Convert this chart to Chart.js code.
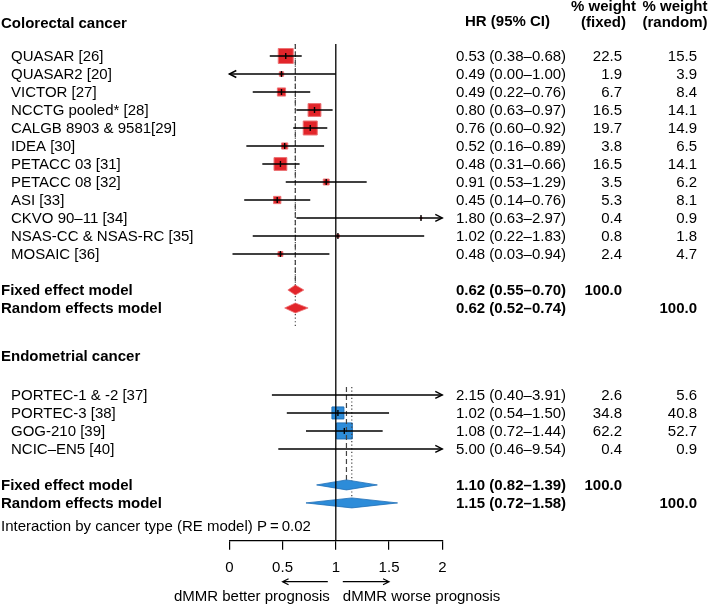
<!DOCTYPE html>
<html>
<head>
<meta charset="utf-8">
<script src="https://cdn.jsdelivr.net/npm/chart.js@4/dist/chart.umd.min.js"></script>
<style>
  body { margin: 0; background: #fff; }
  canvas { display: block; }
</style>
</head>
<body>
<canvas id="forest" width="709" height="604"></canvas>
<script>
// colorectal cancer studies
const crcStudies = ['QUASAR [26]', 'QUASAR2 [20]', 'VICTOR [27]', 'NCCTG pooled* [28]', 'CALGB 8903 & 9581[29]',
  'IDEA [30]', 'PETACC 03 [31]', 'PETACC 08 [32]', 'ASI [33]', 'CKVO 90\u201311 [34]', 'NSAS-CC & NSAS-RC [35]', 'MOSAIC [36]'];
const crcHR = [0.53, 0.49, 0.49, 0.80, 0.76, 0.52, 0.48, 0.91, 0.45, 1.80, 1.02, 0.48];
const crcLower = [0.38, 0.00, 0.22, 0.63, 0.60, 0.16, 0.31, 0.53, 0.14, 0.63, 0.22, 0.03];
const crcUpper = [0.68, 1.00, 0.76, 0.97, 0.92, 0.89, 0.66, 1.29, 0.76, 2.97, 1.83, 0.94];
const crcWeightFixed = [22.5, 1.9, 6.7, 16.5, 19.7, 3.8, 16.5, 3.5, 5.3, 0.4, 0.8, 2.4];
const crcWeightRandom = [15.5, 3.9, 8.4, 14.1, 14.9, 6.5, 14.1, 6.2, 8.1, 0.9, 1.8, 4.7];
const crcFixedModel = [0.62, 0.55, 0.70];
const crcRandomModel = [0.62, 0.52, 0.74];

// endometrial cancer studies
const endoStudies = ['PORTEC-1 & -2 [37]', 'PORTEC-3 [38]', 'GOG-210 [39]', 'NCIC\u2013EN5 [40]'];
const endoHR = [2.15, 1.02, 1.08, 5.00];
const endoLower = [0.40, 0.54, 0.72, 0.46];
const endoUpper = [3.91, 1.50, 1.44, 9.54];
const endoWeightFixed = [2.6, 34.8, 62.2, 0.4];
const endoWeightRandom = [5.6, 40.8, 52.7, 0.9];
const endoFixedModel = [1.10, 0.82, 1.39];
const endoRandomModel = [1.15, 0.72, 1.58];

const xTicks = [0, 0.5, 1, 1.5, 2];
const interactionP = '0.02';

const FONT = "'Liberation Sans', Arial, Helvetica, sans-serif";
const XMIN = 0, XMAX = 2;

const groups = [
  { title: 'Colorectal cancer', titleRow: -1.85, firstRow: 0, names: crcStudies, hr: crcHR, lo: crcLower, hi: crcUpper,
    wf: crcWeightFixed, wr: crcWeightRandom, fixed: crcFixedModel, random: crcRandomModel,
    fill: '#e2252a', edge: '#ec7476', sizeK: 3.16, lineTop: -0.67, randomEnd: 15 },
  { title: 'Endometrial cancer', titleRow: 16.67, firstRow: 18.83, names: endoStudies, hr: endoHR, lo: endoLower, hi: endoUpper,
    wf: endoWeightFixed, wr: endoWeightRandom, fixed: endoFixedModel, random: endoRandomModel,
    fill: '#2d8cd9', edge: '#1f6fb6', sizeK: 2.03, lineTop: 18.39, randomEnd: 24.83 }
];
groups.forEach(g => {
  g.rows = g.names.map((_, i) => g.firstRow + i);
  g.fixedRow = g.firstRow + g.names.length + 1;
  g.randomRow = g.fixedRow + 1;
});

// squares, sized by fixed-effect weight
const squareData = [], squareRadius = [], squareFill = [], squareEdge = [];
groups.forEach(g => {
  g.hr.forEach((v, i) => {
    if (v < XMIN || v > XMAX) return;
    squareData.push({ x: v, y: g.rows[i] });
    squareRadius.push(g.sizeK * Math.sqrt(g.wf[i]) / Math.SQRT2);
    squareFill.push(g.fill);
    squareEdge.push(g.edge);
  });
});

function ci(v) {
  return v[0].toFixed(2) + ' (' + v[1].toFixed(2) + '\u2013' + v[2].toFixed(2) + ')';
}

const forestPlugin = {
  id: 'forest',
  afterDatasetsDraw(chart) {
    const { ctx, chartArea } = chart;
    const xs = chart.scales.x, ys = chart.scales.y;
    const px = v => xs.getPixelForValue(v);
    const py = r => ys.getPixelForValue(r);
    const vline = (x, y1, y2) => { ctx.beginPath(); ctx.moveTo(x, y1); ctx.lineTo(x, y2); ctx.stroke(); };
    const arrow = (x, y, dir) => {
      ctx.beginPath();
      ctx.moveTo(x - dir * 7, y - 3.5); ctx.lineTo(x, y); ctx.lineTo(x - dir * 7, y + 3.5);
      ctx.stroke();
    };
    const diamond = (m, row, fill, edge) => {
      const y = py(row), h = 5;
      ctx.beginPath();
      ctx.moveTo(px(m[1]), y); ctx.lineTo(px(m[0]), y - h);
      ctx.lineTo(px(m[2]), y); ctx.lineTo(px(m[0]), y + h);
      ctx.closePath();
      ctx.fillStyle = fill; ctx.fill();
      ctx.strokeStyle = edge; ctx.lineWidth = 0.8; ctx.stroke();
    };

    ctx.save();
    // pooled estimate lines
    groups.forEach(g => {
      ctx.strokeStyle = '#444';
      ctx.lineWidth = 1.2;
      ctx.setLineDash([5, 3]);
      vline(px(g.fixed[0]), py(g.lineTop), py(g.fixedRow));
      ctx.setLineDash([1.2, 2.4]);
      vline(px(g.random[0]), py(g.lineTop), py(g.randomEnd));
    });
    ctx.setLineDash([]);

    groups.forEach(g => {
      diamond(g.fixed, g.fixedRow, g.fill, g.edge);
      diamond(g.random, g.randomRow, g.fill, g.edge);
    });

    // line of no effect
    ctx.strokeStyle = '#000';
    ctx.lineWidth = 1.3;
    vline(px(1), py(-0.67), chartArea.bottom);

    // confidence intervals
    ctx.lineWidth = 1.4;
    groups.forEach(g => {
      g.hr.forEach((v, i) => {
        const y = py(g.rows[i]);
        const a = Math.max(g.lo[i], XMIN), b = Math.min(g.hi[i], XMAX);
        ctx.beginPath(); ctx.moveTo(px(a), y); ctx.lineTo(px(b), y); ctx.stroke();
        if (g.lo[i] <= XMIN) arrow(px(XMIN), y, -1);
        if (g.hi[i] > XMAX) arrow(px(XMAX), y, 1);
        if (v >= XMIN && v <= XMAX) vline(px(v), y - 3, y + 3);
      });
    });
    ctx.restore();
  },
  afterDraw(chart) {
    const { ctx, chartArea } = chart;
    const xs = chart.scales.x, ys = chart.scales.y;
    const py = r => ys.getPixelForValue(r) + 1;
    const colHR = 456, colFixed = 622, colRandom = 697;
    const text = (s, x, y, align, bold) => {
      ctx.font = (bold ? 'bold ' : '') + '15px ' + FONT;
      ctx.textAlign = align;
      ctx.fillText(s, x, y);
    };

    ctx.save();
    ctx.fillStyle = '#000';
    ctx.textBaseline = 'middle';

    // column headers
    text('HR (95% CI)', 507.5, 22, 'center', true);
    text('% weight', 603.5, 7, 'center', true);
    text('(fixed)', 603.5, 23, 'center', true);
    text('% weight', 675, 7, 'center', true);
    text('(random)', 675, 23, 'center', true);

    groups.forEach(g => {
      text(g.title, 1, py(g.titleRow), 'left', true);
      g.names.forEach((n, i) => {
        const y = py(g.rows[i]);
        text(n, 11, y, 'left', false);
        text(ci([g.hr[i], g.lo[i], g.hi[i]]), colHR, y, 'left', false);
        text(g.wf[i].toFixed(1), colFixed, y, 'right', false);
        text(g.wr[i].toFixed(1), colRandom, y, 'right', false);
      });
      const yf = py(g.fixedRow), yr = py(g.randomRow);
      text('Fixed effect model', 1, yf, 'left', true);
      text(ci(g.fixed), colHR, yf, 'left', true);
      text('100.0', colFixed, yf, 'right', true);
      text('Random effects model', 1, yr, 'left', true);
      text(ci(g.random), colHR, yr, 'left', true);
      text('100.0', colRandom, yr, 'right', true);
    });

    text('Interaction by cancer type (RE model) P\u2009=\u2009' + interactionP, 1, py(26.1), 'left', false);

    // direction arrows under the axis
    const ya = chartArea.bottom + 41;
    const x1 = xs.getPixelForValue(1);
    const xl = xs.getPixelForValue(0.5), xr = xs.getPixelForValue(1.5);
    ctx.strokeStyle = '#000';
    ctx.lineWidth = 1.2;
    ctx.beginPath();
    ctx.moveTo(x1 - 8, ya); ctx.lineTo(xl, ya);
    ctx.moveTo(xl + 6, ya - 3); ctx.lineTo(xl, ya); ctx.lineTo(xl + 6, ya + 3);
    ctx.moveTo(x1 + 7, ya); ctx.lineTo(xr, ya);
    ctx.moveTo(xr - 6, ya - 3); ctx.lineTo(xr, ya); ctx.lineTo(xr - 6, ya + 3);
    ctx.stroke();
    text('dMMR better prognosis', x1 - 6, chartArea.bottom + 56, 'right', false);
    text('dMMR worse prognosis', x1 + 7, chartArea.bottom + 56, 'left', false);
    ctx.restore();
  }
};

Chart.defaults.font.family = FONT;
Chart.defaults.color = '#000';

new Chart(document.getElementById('forest'), {
  type: 'scatter',
  data: {
    datasets: [{
      data: squareData,
      pointStyle: 'rect',
      pointRadius: squareRadius,
      backgroundColor: squareFill,
      borderColor: squareEdge,
      borderWidth: 1
    }]
  },
  options: {
    responsive: false,
    animation: false,
    events: [],
    layout: { padding: { left: 229.3, right: 266.7, top: 38, bottom: 0 } },
    plugins: { legend: { display: false }, tooltip: { enabled: false } },
    scales: {
      x: {
        type: 'linear',
        min: XMIN,
        max: XMAX,
        position: 'bottom',
        afterFit(scale) { scale.height = 63.3; },
        afterBuildTicks(scale) { scale.ticks = xTicks.map(v => ({ value: v })); },
        ticks: { color: '#000', font: { size: 15 }, padding: 9, maxRotation: 0, callback: v => String(v) },
        grid: { drawOnChartArea: false, tickLength: 9, color: '#000', lineWidth: 1.2 },
        border: { color: '#000', width: 1.2 }
      },
      y: { type: 'linear', display: false, reverse: true, min: -1, max: 26.928 }
    }
  },
  plugins: [forestPlugin]
});
</script>
</body>
</html>
